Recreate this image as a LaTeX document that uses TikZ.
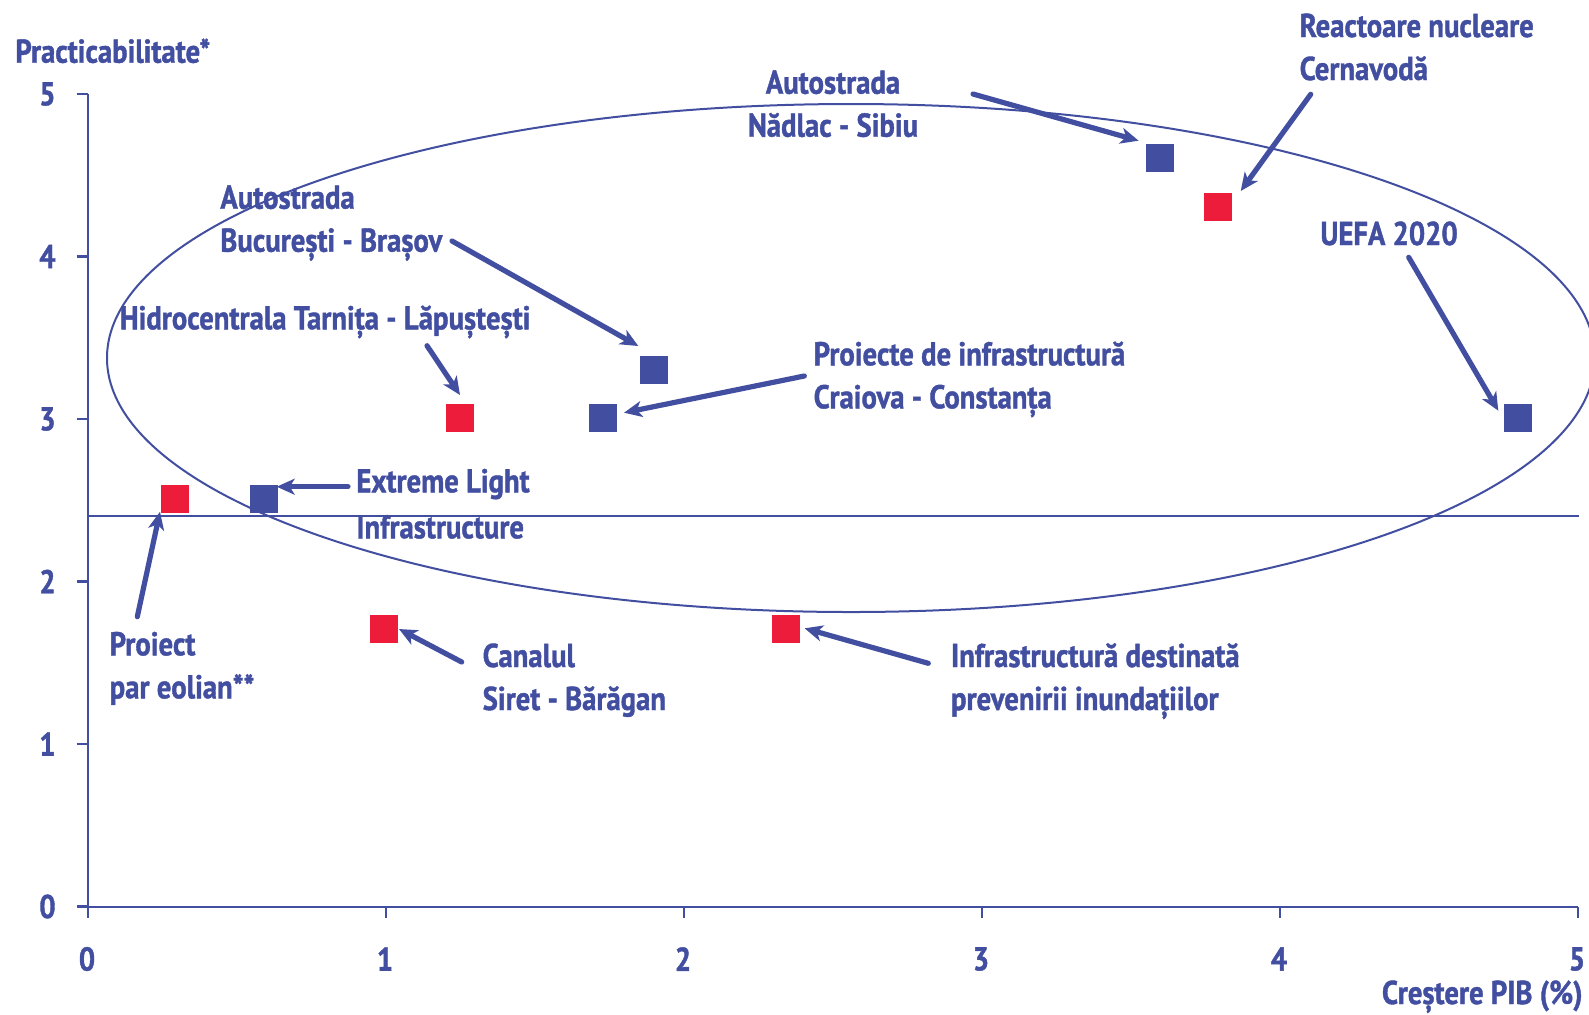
\documentclass[tikz,border=0pt]{standalone}
\usepackage{fontspec}
\setmainfont{PT Sans}[FakeStretch=0.87, BoldFeatures={FakeBold=1.2}]
\usetikzlibrary{arrows.meta}
\definecolor{cblue}{RGB}{66,78,160}
\definecolor{cred}{RGB}{237,28,58}
\newcommand{\lblfont}{\fontsize{16.5pt}{21.5pt}\selectfont\bfseries}
\newcommand{\lblfontw}{\fontsize{16.5pt}{23pt}\selectfont\bfseries}
\begin{document}
\begin{tikzpicture}[x=0.5pt,y=-0.5pt,
  lbl/.style={text=cblue,font=\lblfont,inner sep=0pt,anchor=base west,align=left},
  num/.style={text=cblue,font=\lblfont,inner sep=0pt},
  sqb/.style={fill=cblue,minimum size=14pt,inner sep=0pt},
  sqr/.style={fill=cred,minimum size=14pt,inner sep=0pt},
  axis/.style={draw=cblue,line width=1.2pt},
  thinline/.style={draw=cblue,line width=1pt},
  arr/.style={draw=cblue,line width=2.6pt,line cap=round,-{Stealth[length=9pt,width=8pt,inset=2.5pt]}}
]
\useasboundingbox (0,0) rectangle (1589,1014);

% axes
\draw[axis] (88,94.3) -- (88,907) -- (1578,907);
\foreach \v in {0,...,5}{
  \draw[axis] (76.7,{906.5-162.5*\v}) -- (88,{906.5-162.5*\v});
  \node[num,anchor=east] (yl\v) at (56,{906.5-162.5*\v}) {\v};
  \draw[axis] ({88+298*\v},907) -- ({88+298*\v},918);
  \node[num] (xl\v) at ({87+298*\v},959) {\v};
}
\node[lbl] (ytitle) at (15,62.7) {Practicabilitate*};
\node[lbl,anchor=base east] (xtitle) at (1583,1004) {Creștere PIB (\%)};

% threshold line and ellipse
\draw[thinline] (88,516) -- (1579,516);
\draw[thinline] (851,358) ellipse [x radius=744, y radius=254];

% data squares
\node[sqb] (sNadlac) at (1160,158) {};
\node[sqr] (sCern) at (1218,206.7) {};
\node[sqb] (sBrasov) at (654,370) {};
\node[sqb] (sCraiova) at (603,418) {};
\node[sqr] (sHidro) at (460,418) {};
\node[sqb] (sUefa) at (1518,418) {};
\node[sqb] (sELI) at (264,499) {};
\node[sqr] (sEol) at (175,499) {};
\node[sqr] (sCanal) at (384,629) {};
\node[sqr] (sInund) at (786,629) {};

% labels (multi-line nodes are placed by the baseline of their last line)
\node[lbl,anchor=base,align=center] (lNadlac) at (833,136.7) {Autostrada\\Nădlac - Sibiu};
\node[lbl] (lCern) at (1299.3,80) {Reactoare nucleare\\Cernavodă};
\node[lbl] (lBrasov) at (220,251.7) {Autostrada\\București - Brașov};
\node[lbl] (lHidro) at (119.5,329.3) {Hidrocentrala Tarnița - Lăpuștești};
\node[lbl] (lCraiova) at (813.3,408.3) {Proiecte de infrastructură\\Craiova - Constanța};
\node[lbl] (lUefa) at (1320,245) {UEFA 2020};
\node[lbl,font=\lblfontw] (lELI) at (356,538.3) {Extreme Light\\Infrastructure};
\node[lbl] (lEol) at (109.3,698.3) {Proiect\\par eolian**};
\node[lbl] (lCanal) at (482.3,710) {Canalul\\Siret - Bărăgan};
\node[lbl] (lInund) at (950.6,710) {Infrastructură destinată\\prevenirii inundațiilor};

% arrow ends
\coordinate (aNadlac) at (973,94);     \coordinate (hNadlac) at (1138.6,140.7);
\coordinate (aCern) at (1310.7,94.3);  \coordinate (hCern) at (1240.7,191);
\coordinate (aBrasov) at (452,241);    \coordinate (hBrasov) at (638.3,346);
\coordinate (aHidro) at (427,345.7);   \coordinate (hHidro) at (460,395);
\coordinate (aCraiova) at (804.3,376); \coordinate (hCraiova) at (624,412.7);
\coordinate (aUefa) at (1408.7,257.3); \coordinate (hUefa) at (1498.3,410.7);
\coordinate (aELI) at (348,486.7);     \coordinate (hELI) at (276.7,486.7);
\coordinate (aEol) at (137.3,616.7);   \coordinate (hEol) at (160,511.7);
\coordinate (aCanal) at (461.7,662);   \coordinate (hCanal) at (399,629);
\coordinate (aInund) at (928.3,663.3); \coordinate (hInund) at (804.6,628.3);

\foreach \n in {Nadlac,Cern,Brasov,Hidro,Craiova,Uefa,ELI,Eol,Canal,Inund}{
  \draw[arr] (a\n) -- (h\n);
}
\end{tikzpicture}
\end{document}
